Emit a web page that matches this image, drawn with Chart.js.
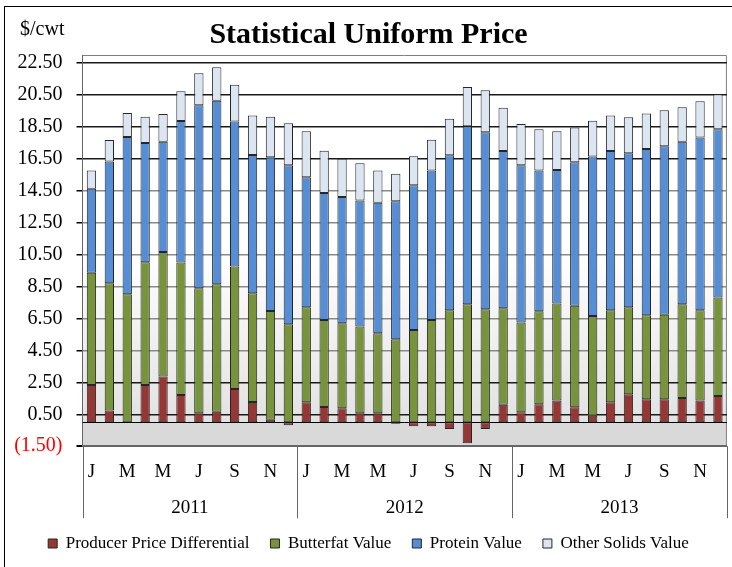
<!DOCTYPE html>
<html>
<head>
<meta charset="utf-8">
<title>Statistical Uniform Price</title>
<script src="https://cdn.jsdelivr.net/npm/chart.js@4.4.1/dist/chart.umd.min.js"></script>
<style>
    html, body { margin: 0; padding: 0; background: #fff; }
    #wrap { position: relative; width: 732px; height: 567px; overflow: hidden; }
    #frame { position: absolute; left: 4px; top: 6px; width: 800px; height: 600px;
             border-left: 1px solid #000; border-top: 1px solid #000; }
    #unit { position: absolute; left: 20px; top: 17px; font: 20px "Liberation Serif", serif; color: #000; }
    canvas { position: absolute; left: 0; top: 0; }
</style>
</head>
<body>
<div id="wrap">
    <div id="frame"></div>
    <canvas id="suChart" width="732" height="567"></canvas>
    <div id="unit">$/cwt</div>
</div>
<script>
// data ($/cwt), Jan 2011 .. Dec 2013
const monthLetters = ['J', 'F', 'M', 'A', 'M', 'J', 'J', 'A', 'S', 'O', 'N', 'D'];
const years = ['2011', '2012', '2013'];
const yTicks = [-1.5, 0.5, 2.5, 4.5, 6.5, 8.5, 10.5, 12.5, 14.5, 16.5, 18.5, 20.5, 22.5];

const ppd = [2.34, 0.73, 0.00, 2.34, 2.86, 1.71, 0.56, 0.65, 2.09, 1.27, 0.15, -0.19,
             1.25, 0.96, 0.88, 0.56, 0.56, -0.10, -0.25, -0.25, -0.42, -1.32, -0.42, 1.09,
             0.63, 1.13, 1.36, 0.94, 0.40, 1.25, 1.75, 1.44, 1.44, 1.52, 1.36, 1.65];
const butterfat = [7.03, 7.98, 8.02, 7.68, 7.81, 8.29, 7.83, 7.99, 7.66, 6.81, 6.82, 6.14,
                   5.95, 5.45, 5.32, 5.43, 5.01, 5.20, 5.78, 6.41, 7.01, 7.39, 7.08, 6.05,
                   5.61, 5.82, 6.07, 6.35, 6.26, 5.76, 5.45, 5.26, 5.30, 5.87, 5.65, 6.16];
const protein = [5.26, 7.62, 9.85, 7.47, 6.89, 8.87, 11.46, 11.49, 9.08, 8.66, 9.63, 9.96,
                 8.14, 7.95, 7.91, 7.89, 8.17, 8.64, 9.06, 9.35, 9.71, 11.15, 11.08, 9.85,
                 9.86, 8.81, 8.37, 8.99, 9.98, 9.98, 9.65, 10.42, 10.55, 10.17, 10.82, 10.54];
const otherSolids = [1.13, 1.35, 1.50, 1.65, 1.75, 1.86, 2.01, 2.10, 2.30, 2.47, 2.54, 2.63,
                     2.89, 2.65, 2.40, 2.34, 2.02, 1.73, 1.82, 1.94, 2.28, 2.46, 2.63, 2.70,
                     2.58, 2.59, 2.43, 2.18, 2.25, 2.22, 2.25, 2.21, 2.25, 2.17, 2.27, 2.19];

const categories = [];
years.forEach(y => monthLetters.forEach(m => categories.push(m + ' ' + y)));

const serif = '"Liberation Serif", "Times New Roman", serif';

// plot background: white top, soft grey toward zero, grey band below zero
const plotBackground = {
    id: 'plotBackground',
    beforeDraw(chart) {
        const { ctx, chartArea: a, scales: { y } } = chart;
        const y0 = y.getPixelForValue(0);
        const yFade = y.getPixelForValue(10.5);
        ctx.save();
        ctx.fillStyle = '#fff';
        ctx.fillRect(a.left, a.top, a.right - a.left, a.bottom - a.top);
        const g = ctx.createLinearGradient(0, yFade, 0, y0);
        g.addColorStop(0, '#ffffff');
        g.addColorStop(1, '#e2e2e2');
        ctx.fillStyle = g;
        ctx.fillRect(a.left, yFade, a.right - a.left, y0 - yFade);
        ctx.fillStyle = '#d9d9d9';
        ctx.fillRect(a.left, y0, a.right - a.left, a.bottom - y0);
        // top and right frame
        ctx.strokeStyle = '#7f7f7f';
        ctx.lineWidth = 1;
        ctx.beginPath();
        ctx.moveTo(a.left, a.top + 0.5);
        ctx.lineTo(a.right - 0.5, a.top + 0.5);
        ctx.lineTo(a.right - 0.5, a.bottom);
        ctx.stroke();
        ctx.restore();
    },
    beforeDatasetsDraw(chart) {
        const { ctx, chartArea: a, scales: { y } } = chart;
        const y0 = Math.round(y.getPixelForValue(0)) + 0.5;
        ctx.save();
        ctx.strokeStyle = '#000';
        ctx.lineWidth = 1;
        ctx.beginPath();
        ctx.moveTo(a.left, y0);
        ctx.lineTo(a.right, y0);
        ctx.stroke();
        ctx.restore();
    }
};

// year row under the month letters, with separators
const yearRow = {
    id: 'yearRow',
    afterDraw(chart) {
        const { ctx, chartArea: a, scales: { x } } = chart;
        const xs = [a.left];
        for (let i = 12; i < categories.length; i += 12) {
            xs.push((x.getPixelForValue(i - 1) + x.getPixelForValue(i)) / 2);
        }
        xs.push(a.right);
        ctx.save();
        ctx.strokeStyle = '#666';
        ctx.lineWidth = 1;
        ctx.beginPath();
        xs.forEach(px => {
            const p = Math.round(px) + 0.5;
            ctx.moveTo(p, a.bottom);
            ctx.lineTo(p, a.bottom + 72);
        });
        ctx.stroke();
        ctx.fillStyle = '#000';
        ctx.font = '19px ' + serif;
        ctx.textAlign = 'center';
        ctx.textBaseline = 'middle';
        years.forEach((yr, i) => {
            ctx.fillText(yr, (xs[i] + xs[i + 1]) / 2, a.bottom + 62);
        });
        ctx.restore();
    }
};

const barStyle = {
    borderColor: '#262626',
    borderWidth: 1,
    borderSkipped: false,
    barPercentage: 0.52,
    categoryPercentage: 1
};

new Chart(document.getElementById('suChart'), {
    type: 'bar',
    data: {
        labels: categories,
        datasets: [
            { label: 'Producer Price Differential', data: ppd, backgroundColor: '#953735', ...barStyle },
            { label: 'Butterfat Value', data: butterfat, backgroundColor: '#77933C', ...barStyle },
            { label: 'Protein Value', data: protein, backgroundColor: '#558ED5', ...barStyle },
            { label: 'Other Solids Value', data: otherSolids, backgroundColor: '#DCE6F2', ...barStyle }
        ]
    },
    options: {
        responsive: false,
        animation: false,
        layout: { padding: { left: 8, right: 3, top: 0, bottom: 5 } },
        plugins: {
            title: {
                display: true,
                text: 'Statistical Uniform Price',
                color: '#000',
                font: { family: serif, size: 30, weight: 'bold' },
                padding: { top: 17, bottom: 2 }
            },
            legend: {
                position: 'bottom',
                labels: {
                    color: '#000',
                    font: { family: serif, size: 17 },
                    boxWidth: 9,
                    boxHeight: 9,
                    padding: 21
                }
            },
            tooltip: { enabled: false }
        },
        scales: {
            x: {
                stacked: true,
                grid: { display: false, drawTicks: false },
                border: { display: false },
                ticks: {
                    autoSkip: false,
                    maxRotation: 0,
                    color: '#000',
                    font: { family: serif, size: 19 },
                    padding: 14,
                    callback: (val, i) => i % 2 === 0 ? monthLetters[i % 12] : ''
                },
                afterFit: scale => { scale.height = 67.8; }
            },
            y: {
                stacked: true,
                min: -1.5,
                max: 23,
                afterBuildTicks: scale => { scale.ticks = yTicks.map(v => ({ value: v })); },
                afterFit: scale => { scale.width = 74.5; },
                grid: {
                    color: ctx => {
                        const v = ctx.tick ? ctx.tick.value : 0;
                        if (v < 0) return '#666';
                        return (v > 15 || v < 3) ? '#1a1a1a' : '#8a8a8a';
                    },
                    lineWidth: ctx => (ctx.tick && ctx.tick.value < 0) ? 2 : 1.5,
                    tickColor: '#000',
                    tickLength: 6
                },
                border: { display: true, color: '#666', width: 1 },
                ticks: {
                    padding: 14,
                    font: { family: serif, size: 20 },
                    color: ctx => ctx.tick.value < 0 ? '#ff0000' : '#000',
                    callback: v => v < 0 ? '(' + Math.abs(v).toFixed(2) + ')' : v.toFixed(2)
                }
            }
        }
    },
    plugins: [plotBackground, yearRow]
});
</script>
</body>
</html>
